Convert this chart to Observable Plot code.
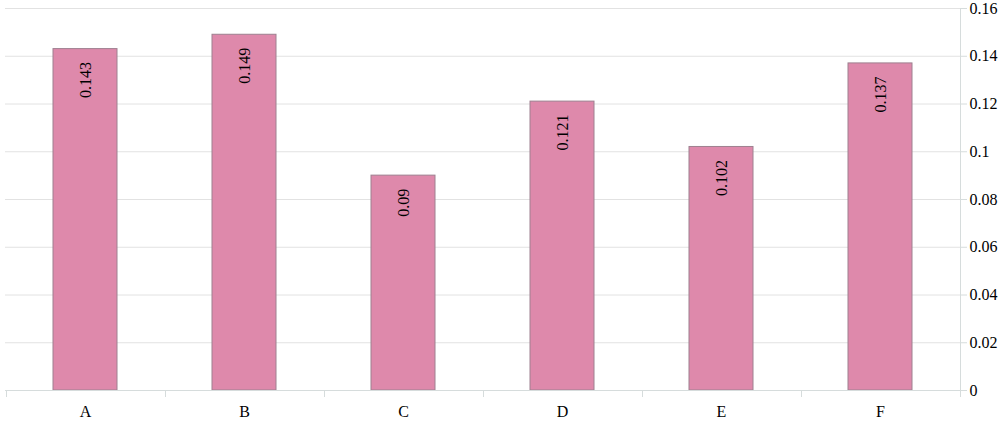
<!DOCTYPE html>
<html>
<head>
<meta charset="utf-8">
<script src="https://cdn.jsdelivr.net/npm/d3@7"></script>
<script src="https://cdn.jsdelivr.net/npm/@observablehq/plot@0.6"></script>
<style>
  html, body { margin: 0; padding: 0; background: #fff; }
</style>
</head>
<body>
<div id="chart"></div>
<script>
const categories = ["A", "B", "C", "D", "E", "F"];
const values = [0.143, 0.149, 0.09, 0.121, 0.102, 0.137];
const valueLabels = ["0.143", "0.149", "0.09", "0.121", "0.102", "0.137"];
const yTicks = [0, 0.02, 0.04, 0.06, 0.08, 0.1, 0.12, 0.14, 0.16];
const yTickLabels = ["0", "0.02", "0.04", "0.06", "0.08", "0.1", "0.12", "0.14", "0.16"];

const data = categories.map((c, i) => ({cat: c, value: values[i], label: valueLabels[i]}));

const axisColor = "#d6dcdc";

function axisLines(index, scales, values, dims) {
  const ns = "http://www.w3.org/2000/svg";
  const g = document.createElementNS(ns, "g");
  const x = scales.x, y = scales.y;
  const y0 = y(0), yTop = y(yTicks[yTicks.length - 1]);
  const left = dims.marginLeft, right = dims.width - dims.marginRight;
  const step = x.step ? x.step() : (x.bandwidth ? x.bandwidth() : 0);
  const bw = x.bandwidth();
  const add = (x1, y1, x2, y2) => {
    const l = document.createElementNS(ns, "line");
    l.setAttribute("x1", x1); l.setAttribute("y1", y1);
    l.setAttribute("x2", x2); l.setAttribute("y2", y2);
    l.setAttribute("stroke", axisColor);
    l.setAttribute("stroke-width", 1);
    g.appendChild(l);
  };
  add(left, y0 + 0.5, right, y0 + 0.5);
  add(right + 0.5, yTop, right + 0.5, y0);
  const gap = (step - bw) / 2;
  const bounds = categories.map(c => x(c) - gap);
  bounds.push(x(categories[categories.length - 1]) + bw + gap);
  for (const b of bounds) add(Math.round(b) + 0.5, y0, Math.round(b) + 0.5, y0 + 7);
  return g;
}

const chart = Plot.plot({
  width: 1000,
  height: 432,
  marginLeft: 5,
  marginRight: 40,
  marginTop: 8,
  marginBottom: 42,
  style: {fontFamily: "'Liberation Serif', serif", fontSize: "16px", color: "#000", background: "#fff"},
  x: {domain: categories, paddingInner: 0.6, paddingOuter: 0.3},
  y: {domain: [0, 0.16]},
  marks: [
    Plot.gridY(yTicks, {stroke: "#e2e2e2", strokeOpacity: 1}),
    Plot.barY(data, {x: "cat", y: "value", fill: "#de89ab", stroke: "#9e8090", strokeWidth: 1}),
    Plot.text(data, {x: "cat", y: "value", text: "label", rotate: -90, textAnchor: "end", dy: 13, fontSize: 16, fill: "#000"}),
    axisLines,
    Plot.axisY(yTicks, {anchor: "right", tickSize: 6, tickPadding: 3, stroke: axisColor, fill: "#000", fontSize: 16, tickFormat: (d, i) => yTickLabels[yTicks.indexOf(d)], label: null}),
    Plot.axisX({tickSize: 0, tickPadding: 15, fontSize: 16, fill: "#000", label: null})
  ]
});
document.getElementById("chart").appendChild(chart);
</script>
</body>
</html>
